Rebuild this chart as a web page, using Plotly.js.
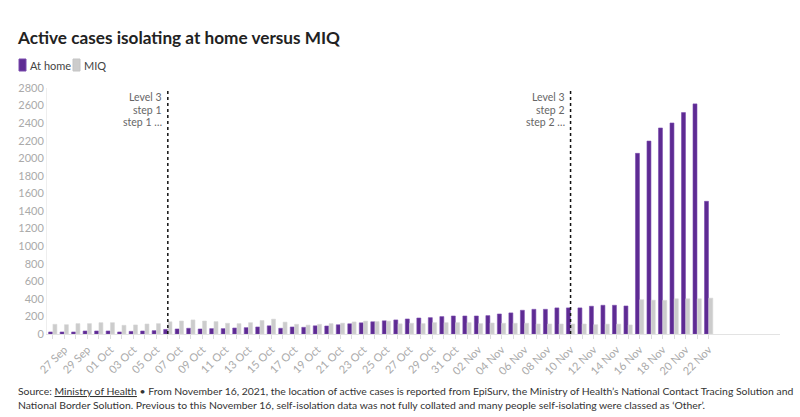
<!DOCTYPE html>
<html>
<head>
<meta charset="utf-8">
<script src="https://cdn.plot.ly/plotly-3.0.1.min.js"></script>
<style>html,body{margin:0;padding:0;background:#fff;}#chart{width:800px;height:417px;}</style>
</head>
<body>
<div id="chart"></div>
<script>
const dates = ['26 Sep','27 Sep','28 Sep','29 Sep','30 Sep','01 Oct','02 Oct','03 Oct','04 Oct','05 Oct',
  '06 Oct','07 Oct','08 Oct','09 Oct','10 Oct','11 Oct','12 Oct','13 Oct','14 Oct','15 Oct',
  '16 Oct','17 Oct','18 Oct','19 Oct','20 Oct','21 Oct','22 Oct','23 Oct','24 Oct','25 Oct',
  '26 Oct','27 Oct','28 Oct','29 Oct','30 Oct','31 Oct','01 Nov','02 Nov','03 Nov','04 Nov',
  '05 Nov','06 Nov','07 Nov','08 Nov','09 Nov','10 Nov','11 Nov','12 Nov','13 Nov','14 Nov',
  '15 Nov','16 Nov','17 Nov','18 Nov','19 Nov','20 Nov','21 Nov','22 Nov'];
const atHome = [23,23,23,34,34,34,23,30,34,38,
  52,57,65,57,61,61,68,72,80,93,
  65,80,76,93,91,105,116,127,139,150,
  160,171,182,186,198,205,205,205,209,228,
  240,270,281,281,297,297,297,316,327,327,
  319,2056,2196,2345,2402,2520,2619,1510];
const miq = [110,106,118,118,129,129,99,103,114,118,
  139,148,160,148,141,122,118,129,154,169,
  135,110,101,110,118,123,137,146,141,146,
  116,122,118,129,129,129,129,118,125,122,
  122,122,114,114,114,114,114,106,112,112,
  103,390,385,383,401,401,401,408];
const seriesNames = ['At home', 'MIQ'];
const seriesColors = ['#5e2b93', '#cccccc'];
const tickLabels = dates.map((d, i) => (i % 2 === 1 ? d : ''));
const levelDates = ['06 Oct', '10 Nov'];
const levelLines = [['Level 3', 'step 1', 'step 1 …'], ['Level 3', 'step 2', 'step 2 …']];

const font = 'Lato, "Source Sans Pro", "Open Sans", sans-serif';

// plot area in pixels: x 47..780, y 88..334
const px = v => (v - 47) / 733;
const py = v => (334 - v) / 246;

const traces = [
  {type: 'bar', name: seriesNames[0], x: dates, y: atHome,
   marker: {color: seriesColors[0], line: {color: '#7a4cae', width: 0.6}}},
  {type: 'bar', name: seriesNames[1], x: dates, y: miq,
   marker: {color: seriesColors[1], line: {color: '#d6d6d6', width: 0.6}}}
];

const shapes = levelDates.map(d => ({
  type: 'line', xref: 'x', yref: 'paper', x0: d, x1: d, y0: 0, y1: 1,
  line: {color: '#111', width: 1.5, dash: 'dot'}
}));
const annotations = [];
const lineY = [97, 110, 122];
levelDates.forEach((d, i) => {
  levelLines[i].forEach((t, j) => {
    annotations.push({
      xref: 'x', yref: 'paper', x: d, y: py(lineY[j]), xanchor: 'right', yanchor: 'middle',
      xshift: -4, align: 'right', showarrow: false, text: t,
      font: {family: font, size: 10.5, color: '#666'}
    });
  });
});

// custom compact legend
const legendX = [19, 73];
const legendTextX = [28, 82];
seriesNames.forEach((n, i) => {
  shapes.push({type: 'rect', xref: 'paper', yref: 'paper', layer: 'above',
    x0: px(legendX[i]), x1: px(legendX[i] + 7), y0: py(71), y1: py(59),
    fillcolor: seriesColors[i], line: {color: i === 0 ? '#7a4cae' : '#c4c4c4', width: 1}});
  annotations.push({xref: 'paper', yref: 'paper', x: px(legendTextX[i]), y: py(65),
    xanchor: 'left', yanchor: 'middle', showarrow: false, text: n,
    font: {family: font, size: 11, color: '#444'}});
});

annotations.push({
  xref: 'paper', yref: 'paper', x: px(16), y: -0.2, xanchor: 'left', yanchor: 'top',
  align: 'left', showarrow: false,
  text: 'Source: <span style="text-decoration:underline">Ministry of Health</span> • From November 16, 2021, the location of active cases is reported from EpiSurv, the Ministry of Health’s National Contact Tracing Solution and<br>National Border Solution. Previous to this November 16, self-isolation data was not fully collated and many people self-isolating were classed as ‘Other’.',
  font: {family: font, size: 10.4, color: '#333'}
});

const layout = {
  width: 800, height: 417,
  margin: {l: 47, r: 20, t: 88, b: 83},
  paper_bgcolor: '#fff', plot_bgcolor: '#fff',
  font: {family: font, color: '#333'},
  title: {text: '<b>Active cases isolating at home versus MIQ</b>', x: 0.0225, xanchor: 'left',
          y: 0.908, yanchor: 'middle', xref: 'container', yref: 'container',
          font: {family: font, size: 17.2, color: '#222'}},
  showlegend: false,
  barmode: 'group', bargap: 0.25, bargroupgap: 0.08,
  xaxis: {type: 'category', range: [-0.5, 63.2], tickmode: 'array', tickvals: dates, ticktext: tickLabels,
          tickangle: -45, ticks: 'outside', ticklen: 4, tickcolor: '#ddd',
          tickfont: {family: font, size: 11, color: '#aaa'},
          showline: true, linecolor: '#e3e3e3', linewidth: 1, showgrid: false, zeroline: false},
  yaxis: {range: [0, 2800], dtick: 200, tick0: 0, showgrid: false, zeroline: false,
          showline: true, linecolor: '#eee', linewidth: 1, ticks: '',
          tickfont: {family: font, size: 11, color: '#aaa'}},
  shapes: shapes,
  annotations: annotations
};

Plotly.newPlot('chart', traces, layout, {displayModeBar: false, staticPlot: true});
</script>
</body>
</html>
